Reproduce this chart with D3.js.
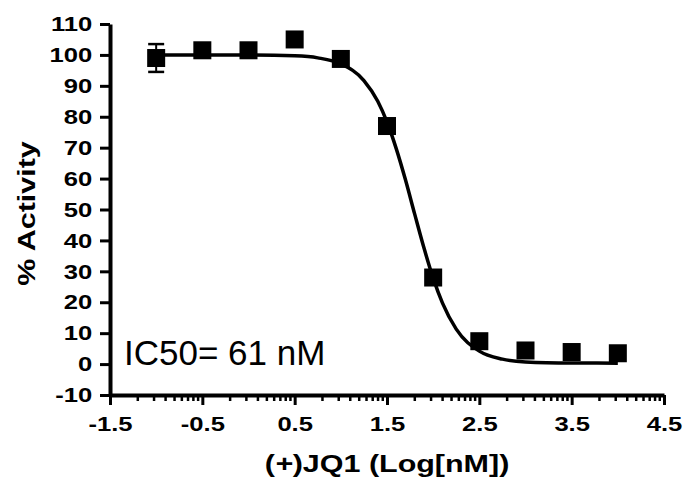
<!DOCTYPE html>
<html>
<head>
<meta charset="utf-8">
<script src="https://cdn.jsdelivr.net/npm/d3@7"></script>
<style>
  body { margin: 0; background: #fff; }
  svg { display: block; }
  .tick-label { font-family: "Liberation Sans", Arial, sans-serif; font-weight: bold; font-size: 21px; fill: #000; }
  .axis-title { font-family: "Liberation Sans", Arial, sans-serif; font-weight: bold; font-size: 24px; fill: #000; }
  .note { font-family: "Liberation Sans", Arial, sans-serif; font-size: 35px; fill: #000; }
  .axis .domain { stroke: #000; stroke-width: 4px; }
  .axis .tick line { stroke: #000; stroke-width: 3px; }
  .minor { stroke: #000; stroke-width: 2.5px; }
</style>
</head>
<body>
<div id="wrapper"></div>
<script>
// measured points (log concentration, % activity, error)
const logConc = [-1, -0.5, 0, 0.5, 1, 1.5, 2, 2.5, 3, 3.5, 4]
const activity = [99, 101.5, 101.5, 105, 98.7, 77, 28, 7.4, 4.4, 3.9, 3.5]
const errors = [4.5, 1.5, 1.5, 2, 2, 2, 2, 1.5, 1, 1, 1]

// fitted curve
const curveX = [-1, -0.5, 0, 0.5, 0.75, 1, 1.25, 1.4, 1.5, 1.6, 1.7, 1.8, 1.9, 2, 2.1, 2.25, 2.5, 2.75, 3, 3.5, 4]
const curveY = [100, 100, 100, 99.7, 99.05, 97.1, 91.7, 85, 78.3, 69.7, 59.6, 48.5, 37.6, 27.8, 19.8, 11.3, 4.2, 1.6, 0.7, 0.35, 0.3]

const xTicks = [-1.5, -0.5, 0.5, 1.5, 2.5, 3.5, 4.5]
const yTicks = [-10, 0, 10, 20, 30, 40, 50, 60, 70, 80, 90, 100, 110]

const yLabel = "% Activity"
const note = "IC50= 61 nM"

const stretch = 1.22

const dimensions = {
  width: 685,
  height: 479,
  margin: { top: 24, right: 21, bottom: 84, left: 110 },
}
dimensions.boundedWidth = dimensions.width - dimensions.margin.left - dimensions.margin.right
dimensions.boundedHeight = dimensions.height - dimensions.margin.top - dimensions.margin.bottom

const svg = d3.select("#wrapper")
  .append("svg")
    .attr("width", dimensions.width)
    .attr("height", dimensions.height)

const bounds = svg.append("g")
    .attr("transform", `translate(${dimensions.margin.left},${dimensions.margin.top})`)

const xScale = d3.scaleLinear()
  .domain([-1.5, 4.5])
  .range([0, dimensions.boundedWidth])

const yScale = d3.scaleLinear()
  .domain([-10, 110])
  .range([dimensions.boundedHeight, 0])

// minor ticks, log spaced inside each decade
const minorTicks = []
xTicks.slice(0, -1).forEach(m => {
  for (let k = 2; k <= 9; k++) minorTicks.push(m + Math.log10(k))
})

const fmt = d => String(d).replace("−", "-")

// axes
const yAxis = bounds.append("g")
    .attr("class", "axis")
  .call(d3.axisLeft(yScale).tickValues(yTicks).tickSize(10).tickPadding(4.5).tickSizeOuter(0))
yAxis.selectAll(".tick text")
    .attr("class", "tick-label")
    .attr("transform", `scale(${stretch},1)`)
    .text(fmt)

const xAxis = bounds.append("g")
    .attr("class", "axis")
    .attr("transform", `translate(0,${dimensions.boundedHeight})`)
  .call(d3.axisBottom(xScale).tickValues(xTicks).tickSize(10).tickPadding(11).tickSizeOuter(0))
xAxis.selectAll(".tick text")
    .attr("class", "tick-label")
    .attr("transform", `scale(${stretch},1)`)
    .text(d => fmt(d3.format(".1f")(d)))

xAxis.append("g")
  .selectAll("line")
  .data(minorTicks)
  .enter().append("line")
    .attr("class", "minor")
    .attr("x1", d => xScale(d))
    .attr("x2", d => xScale(d))
    .attr("y1", 0)
    .attr("y2", 6)

// fitted curve
const line = d3.line()
  .x((d, i) => xScale(curveX[i]))
  .y(d => yScale(d))
  .curve(d3.curveMonotoneX)

bounds.append("path")
    .datum(curveY)
    .attr("d", line)
    .attr("fill", "none")
    .attr("stroke", "#000")
    .attr("stroke-width", 3.5)

// error bars
const errG = bounds.append("g")
logConc.forEach((x, i) => {
  const cx = xScale(x)
  const top = yScale(activity[i] + errors[i])
  const bot = yScale(activity[i] - errors[i])
  errG.append("line")
    .attr("x1", cx).attr("x2", cx).attr("y1", top).attr("y2", bot)
    .attr("stroke", "#000").attr("stroke-width", 2)
  ;[top, bot].forEach(y => errG.append("line")
    .attr("x1", cx - 8).attr("x2", cx + 8).attr("y1", y).attr("y2", y)
    .attr("stroke", "#000").attr("stroke-width", 2.5))
})

// markers
const size = 18
bounds.selectAll("rect.pt")
  .data(activity)
  .enter().append("rect")
    .attr("class", "pt")
    .attr("x", (d, i) => xScale(logConc[i]) - size / 2)
    .attr("y", d => yScale(d) - size / 2)
    .attr("width", size)
    .attr("height", size)
    .attr("fill", "#000")

// labels
bounds.append("text")
    .attr("class", "note")
    .attr("x", 14)
    .attr("y", yScale(0) + 1)
    .text(note)

svg.append("text")
    .attr("class", "axis-title")
    .attr("text-anchor", "middle")
    .attr("transform", `translate(${dimensions.margin.left + dimensions.boundedWidth / 2},472) scale(1.27,1)`)
    .html('(<tspan font-style="italic">+</tspan>)JQ1 (Log[nM])')

svg.append("text")
    .attr("class", "axis-title")
    .attr("text-anchor", "middle")
    .attr("transform", `translate(35,${dimensions.margin.top + dimensions.boundedHeight / 2 + 4}) rotate(-90) scale(1.27,1)`)
    .text(yLabel)
</script>
</body>
</html>
